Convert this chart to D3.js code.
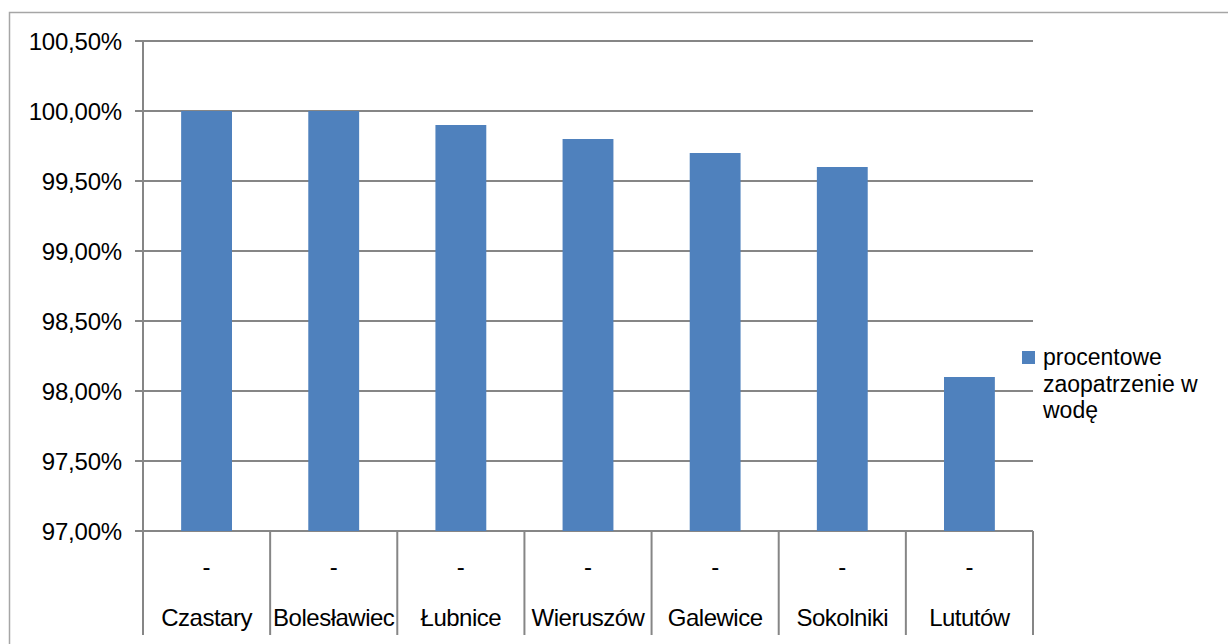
<!DOCTYPE html>
<html>
<head>
<meta charset="utf-8">
<script src="https://cdn.jsdelivr.net/npm/d3@7"></script>
<style>
  html, body { margin: 0; padding: 0; background: #fff; }
  svg { display: block; font-family: "Liberation Sans", Arial, sans-serif; }
</style>
</head>
<body>
<svg id="chart" width="1228" height="644"></svg>
<script>
const categories = ["Czastary", "Bolesławiec", "Łubnice", "Wieruszów", "Galewice", "Sokolniki", "Lututów"];
const subLabels = ["-", "-", "-", "-", "-", "-", "-"];
const values = [100.0, 100.0, 99.9, 99.8, 99.7, 99.6, 98.1];
const yTicks = [97.0, 97.5, 98.0, 98.5, 99.0, 99.5, 100.0, 100.5];
const seriesName = ["procentowe", "zaopatrzenie w", "wodę"];

const svg = d3.select("#chart");
const plot = { left: 143, right: 1033, top: 41, bottom: 531 };
const gray = "#868686";

// outer chart border
svg.append("rect")
  .attr("x", 9.5).attr("y", 12.5)
  .attr("width", 1260).attr("height", 700)
  .attr("fill", "none").attr("stroke", "#a6a6a6").attr("stroke-width", 1.5);

const x = d3.scaleBand().domain(categories).range([plot.left, plot.right]).padding(0);
const y = d3.scaleLinear().domain([97, 100.5]).range([plot.bottom, plot.top]);
const fmt = v => d3.format(".2f")(v).replace(".", ",") + "%";

// gridlines
svg.append("g").selectAll("line").data(yTicks).join("line")
  .attr("x1", plot.left - 8).attr("x2", plot.right)
  .attr("y1", d => y(d)).attr("y2", d => y(d))
  .attr("stroke", gray).attr("stroke-width", 2);

// y labels
svg.append("g").selectAll("text").data(yTicks).join("text")
  .attr("x", 122).attr("y", d => y(d)).attr("dy", "0.36em")
  .attr("text-anchor", "end")
  .attr("font-size", 24).attr("letter-spacing", -0.2).attr("fill", "#000")
  .text(fmt);

// bars
const bw = x.bandwidth() * 0.4;
svg.append("g").selectAll("rect").data(values).join("rect")
  .attr("x", (d, i) => x(categories[i]) + (x.bandwidth() - bw) / 2)
  .attr("width", bw)
  .attr("y", d => y(d))
  .attr("height", d => y(97) - y(d))
  .attr("fill", "#4f81bd");

// y axis line
svg.append("line")
  .attr("x1", plot.left).attr("x2", plot.left)
  .attr("y1", plot.top).attr("y2", 635)
  .attr("stroke", gray).attr("stroke-width", 2);

// category separators
const seps = categories.map(c => x(c) + x.bandwidth());
svg.append("g").selectAll("line").data(seps).join("line")
  .attr("x1", d => d).attr("x2", d => d)
  .attr("y1", plot.bottom).attr("y2", 635)
  .attr("stroke", gray).attr("stroke-width", 2);

// x labels
svg.append("g").selectAll("text").data(subLabels).join("text")
  .attr("x", (d, i) => x(categories[i]) + x.bandwidth() / 2)
  .attr("y", 575)
  .attr("text-anchor", "middle").attr("font-size", 24).attr("fill", "#000")
  .text(d => d);

svg.append("g").selectAll("text").data(categories).join("text")
  .attr("x", d => x(d) + x.bandwidth() / 2)
  .attr("y", 626)
  .attr("text-anchor", "middle").attr("font-size", 24).attr("letter-spacing", -0.5).attr("fill", "#000")
  .text(d => d);

// legend
const lg = svg.append("g");
lg.append("rect").attr("x", 1022).attr("y", 351).attr("width", 13).attr("height", 13).attr("fill", "#4f81bd");
lg.selectAll("text").data(seriesName).join("text")
  .attr("x", 1043).attr("y", (d, i) => 365 + i * 26.5)
  .attr("font-size", 23).attr("fill", "#000")
  .text(d => d);
</script>
</body>
</html>
